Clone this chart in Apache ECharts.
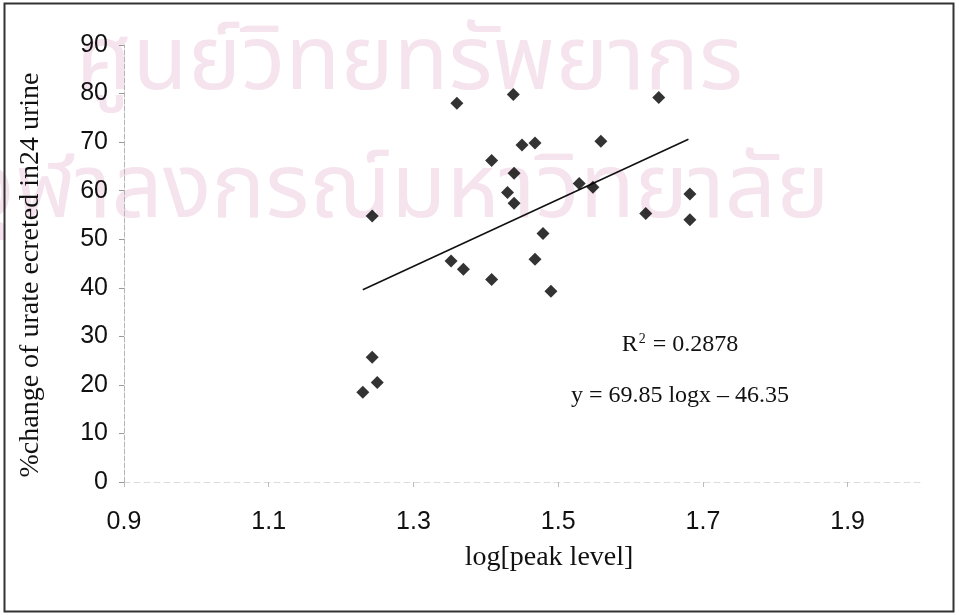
<!DOCTYPE html>
<html>
<head>
<meta charset="utf-8">
<script src="https://cdn.jsdelivr.net/npm/echarts@6/dist/echarts.min.js"></script>
<style>
html,body{margin:0;padding:0;background:#fff;}
#chart{width:959px;height:615px;}
</style>
</head>
<body>
<div id="chart"></div>
<script>
// x = log[peak level], y = %change of urate excreted in 24 h urine
const xValues = [1.360, 1.438, 1.639, 1.450, 1.468, 1.559, 1.408, 1.439, 1.430, 1.439, 1.529, 1.548, 1.682, 1.682, 1.621, 1.243, 1.479, 1.352, 1.369, 1.408, 1.468, 1.490, 1.243, 1.250, 1.230];
const yValues = [78.0, 79.8, 79.2, 69.4, 69.8, 70.2, 66.2, 63.6, 59.6, 57.4, 61.5, 60.7, 59.3, 54.0, 55.3, 54.8, 51.2, 45.5, 43.8, 41.7, 45.9, 39.3, 25.7, 20.5, 18.5];
// trendline endpoints (x, y)
const trendX = [1.23, 1.68];
const trendY = [39.6, 70.6];
const xTicks = [0.9, 1.1, 1.3, 1.5, 1.7, 1.9];
const yTicks = [0, 10, 20, 30, 40, 50, 60, 70, 80, 90];
const xTitle = 'log[peak level]';
const yTitle = '%change of urate ecreted in24 urine';
const r2Text = '0.2878';
const eqText = 'y = 69.85 logx \u2013 46.35';
const watermark1 = 'ศูนย์วิทยทรัพยากร';
const watermark2 = 'จุฬาลงกรณ์มหาวิทยาลัย';

const chart = echarts.init(document.getElementById('chart'), null, {renderer: 'canvas'});
const points = xValues.map((x, i) => [x, yValues[i]]);
const trend = trendX.map((x, i) => [x, trendY[i]]);
const wmFont = '90px "Noto Sans Thai", "Noto Sans", "DejaVu Sans", sans-serif';

const option = {
  backgroundColor: '#ffffff',
  animation: false,
  grid: {left: 124, right: 39, top: 45, bottom: 133, containLabel: false},
  xAxis: {
    type: 'value', min: xTicks[0], max: 2.0, interval: 0.2,
    axisLine: {show: true, onZero: false, lineStyle: {color: '#dcdcdc', width: 1, type: [6, 4]}},
    axisTick: {show: true, inside: false, length: 5, lineStyle: {color: '#bbbbbb'}},
    axisLabel: {
      show: true, margin: 28, color: '#111', fontFamily: 'Liberation Sans, Arial, sans-serif', fontSize: 25,
      showMaxLabel: false,
      formatter: v => (xTicks.some(t => Math.abs(t - v) < 1e-6) ? v.toFixed(1) : '')
    },
    splitLine: {show: false}
  },
  yAxis: {
    type: 'value', min: yTicks[0], max: yTicks[yTicks.length - 1], interval: 10,
    axisLine: {show: true, onZero: false, lineStyle: {color: '#b5b5b5', width: 1, type: [5, 2]}},
    axisTick: {show: true, inside: false, length: 5, lineStyle: {color: '#999'}},
    axisLabel: {show: true, margin: 16, color: '#111', fontFamily: 'Liberation Sans, Arial, sans-serif', fontSize: 25},
    splitLine: {show: false}
  },
  graphic: [
    {type: 'text', z: -10, left: 76, top: 26, style: {text: watermark1, fill: '#f5e3ed', font: wmFont}},
    {type: 'text', z: -10, left: -33, top: 154, style: {text: watermark2, fill: '#f5e3ed', font: wmFont}},
    {type: 'rect', z: 100, shape: {x: 4.5, y: 3.5, width: 949, height: 608}, style: {fill: 'none', stroke: '#333', lineWidth: 2}},
    {type: 'text', z: 50, x: 549, y: 558, style: {text: xTitle, fill: '#111', font: '28px "Liberation Serif", "Times New Roman", serif', align: 'center', verticalAlign: 'middle'}},
    {type: 'text', z: 50, x: 31, y: 275, rotation: Math.PI / 2, style: {text: yTitle, fill: '#111', font: '28px "Liberation Serif", "Times New Roman", serif', align: 'center', verticalAlign: 'middle'}},
    {type: 'text', z: 50, x: 680, y: 345, style: {
      text: '{r|R}{s|2}{r| = ' + r2Text + '}', align: 'center', verticalAlign: 'middle',
      rich: {
        r: {fontFamily: 'Liberation Serif, Times New Roman, serif', fontSize: 24, fill: '#111', color: '#111'},
        s: {fontFamily: 'Liberation Serif, Times New Roman, serif', fontSize: 14, fill: '#111', color: '#111', verticalAlign: 'top', padding: [0, 1, 12, 1]}
      }
    }},
    {type: 'text', z: 50, x: 680, y: 396, style: {text: eqText, fill: '#111', font: '24px "Liberation Serif", "Times New Roman", serif', align: 'center', verticalAlign: 'middle'}}
  ],
  series: [
    {
      type: 'line', data: trend, showSymbol: false, symbol: 'none',
      lineStyle: {color: '#111', width: 1.6}, z: 3, silent: true
    },
    {
      type: 'scatter', data: points, symbol: 'diamond', symbolSize: 13,
      itemStyle: {color: '#000'}, z: 4
    }
  ]
};
chart.setOption(option);
</script>
</body>
</html>
